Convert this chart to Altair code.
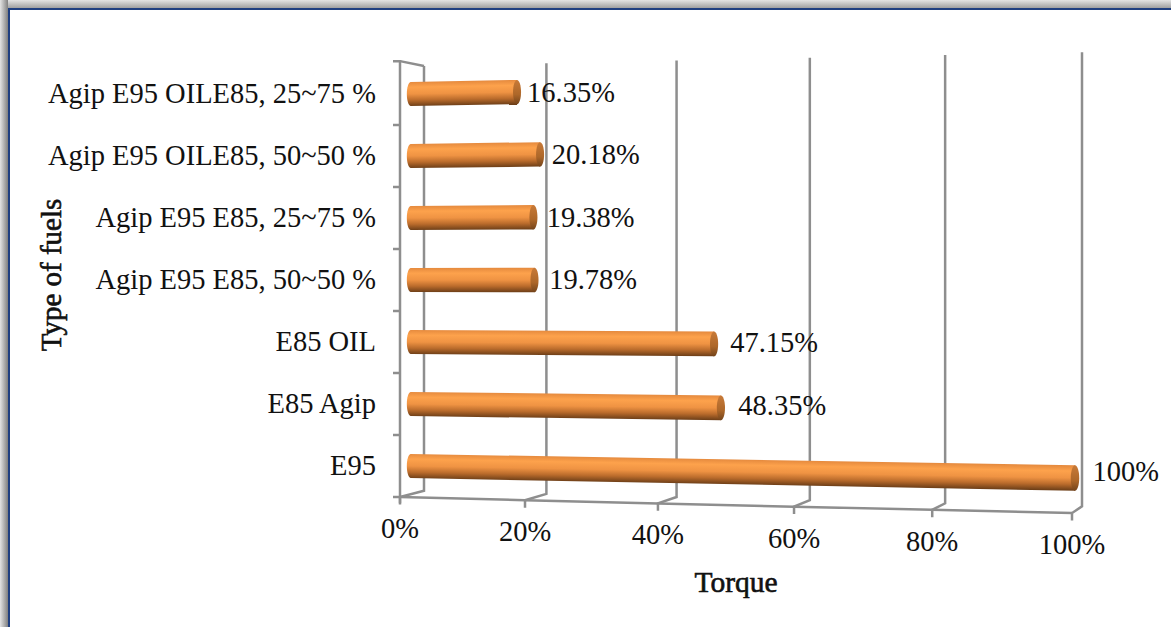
import altair as alt
import pandas as pd

# Chart content
fuels = ["E95", "E85 Agip", "E85 OIL", "Agip E95 E85, 50~50 %", "Agip E95 E85, 25~75 %",
         "Agip E95 OILE85, 50~50 %", "Agip E95 OILE85, 25~75 %"]
torque = [100, 48.35, 47.15, 19.78, 19.38, 20.18, 16.35]
torque_text = ["100%", "48.35%", "47.15%", "19.78%", "19.38%", "20.18%", "16.35%"]
x_ticks = [0, 20, 40, 60, 80, 100]
x_tick_text = ["0%", "20%", "40%", "60%", "80%", "100%"]

# Perspective model of the 3-D box: the value axis is a power scale, rows fan out with value
EXP = 1.045
FRONT_SPAN, BACK_SHIFT, BACK_SPAN = 672, 24, 658
FAN = 0.0645
MID_ROW = 3
ROW_PX = 62
BAR_DEPTH = 0.45
BAR_HALF = 0.194

FONT = "Liberation Serif"
FONT_SIZE = 28.5
INK = "#111111"
WALL = "#8e8e8e"

x_scale = alt.Scale(domain=[0, 100], range=[400, 1072], type="pow", exponent=EXP, nice=False, zero=False)
y_scale = alt.Scale(domain=[0, 6], range=[466, 94], nice=False, zero=False)


def depth_x(v, depth=0.0, shift=0.0):
    """Value on the front axis that lands where value v sits at the given box depth."""
    f = (max(v, 0) / 100) ** EXP
    px = (1 - depth) * FRONT_SPAN * f + depth * (BACK_SHIFT + BACK_SPAN * f) + shift
    sign = 1 if px >= 0 else -1
    return sign * 100 * (abs(px) / FRONT_SPAN) ** (1 / EXP)


def fan_y(row, v, fan=FAN):
    return MID_ROW + (row - MID_ROW) * (1 + fan * v / 100)


def end_depth(row):
    # Far ends of the tubes sit a little deeper in the upper rows
    return 0.30 + 0.07 * row


X = alt.X("x:Q", scale=x_scale, axis=None)
Y = alt.Y("y:Q", scale=y_scale, axis=None)

# Box outline: front floor edge, left wall, back wall verticals and their floor links
FLOOR_ROW, BACK_FLOOR, BACK_TOP, SIDE_TOP = -0.5, -0.40, 6.452, 6.53
FLOOR_FAN = 0.074
paths = []


def add_path(name, points):
    for i, (px, py) in enumerate(points):
        paths.append({"path": name, "i": i, "x": px, "y": py})


add_path("floor", [(depth_x(v), fan_y(FLOOR_ROW, v, FLOOR_FAN)) for v in x_ticks])
add_path("side", [(depth_x(0, 0, -7), SIDE_TOP), (depth_x(0), SIDE_TOP), (depth_x(0), FLOOR_ROW - 0.1)])
add_path("side_top", [(depth_x(0), SIDE_TOP), (depth_x(0, 1), BACK_TOP)])
for v in x_ticks:
    add_path(f"wall{v}", [
        (depth_x(v), fan_y(FLOOR_ROW, v, FLOOR_FAN) - 0.12),
        (depth_x(v), fan_y(FLOOR_ROW, v, FLOOR_FAN)),
        (depth_x(v, 1), fan_y(BACK_FLOOR, v, FLOOR_FAN)),
        (depth_x(v, 1), fan_y(BACK_TOP, v)),
    ])
for r in range(0, 7):
    add_path(f"tick{r}", [(depth_x(0, 0, -7), r - 0.5), (depth_x(0), r - 0.5)])

outline = alt.Chart(pd.DataFrame(paths)).mark_line(color=WALL, strokeWidth=2.5, interpolate="linear").encode(
    x=X, y=Y, detail="path:N", order="i:Q")

STOPS = [
    alt.GradientStop(offset=0, color="#e58a3e"),
    alt.GradientStop(offset=0.22, color="#fda24c"),
    alt.GradientStop(offset=0.5, color="#ef9343"),
    alt.GradientStop(offset=0.75, color="#bb6c2c"),
    alt.GradientStop(offset=1, color="#6e3f18"),
]
CAP_HALF_W = "0.33"
CAP_PATH = f"M0,-1 A{CAP_HALF_W},1 0 1 1 0,1 A{CAP_HALF_W},1 0 1 1 0,-1 Z"


def bar_gradient(row, value):
    """Gradient vector, in the unit box of a bar, that stays perpendicular to its slant."""
    y0 = fan_y(row, 0) * ROW_PX
    y1 = fan_y(row, value) * ROW_PX
    half0 = BAR_HALF * ROW_PX
    half1 = half0 * (1 + FAN * value / 100)
    top = max(y0 + half0, y1 + half1)
    bottom = min(y0 - half0, y1 - half1)
    height = top - bottom
    slope = (y0 - y1) / height
    thick = (half0 + half1) / height
    step = thick / (1 + slope ** 2)
    y_start = (top - (y0 + y1) / 2 - (half0 + half1) / 2) / height
    return alt.LinearGradient(gradient="linear", stops=STOPS,
                              x1=0.5, y1=y_start,
                              x2=0.5 - slope * step, y2=y_start + step)


bars = []
for row, value in enumerate(torque):
    near = depth_x(0, BAR_DEPTH)
    far = depth_x(value, end_depth(row))
    body = pd.DataFrame({
        "x": [near, far],
        "y": [fan_y(row, v) - BAR_HALF * (1 + FAN * v / 100) for v in (0, value)],
        "y2": [fan_y(row, v) + BAR_HALF * (1 + FAN * v / 100) for v in (0, value)],
    })
    grad = bar_gradient(row, value)
    start = alt.Chart(pd.DataFrame({"x": [near], "y": [fan_y(row, 0)]})).mark_point(
        shape=CAP_PATH, filled=True, opacity=1, strokeWidth=0, size=(2 * BAR_HALF * ROW_PX) ** 2,
        fill=alt.LinearGradient(gradient="linear", stops=STOPS, x1=0, y1=0, x2=0, y2=1),
    ).encode(x=X, y=Y)
    tube = alt.Chart(body).mark_area(fill=grad, interpolate="linear", opacity=1).encode(
        x=X, y=alt.Y("y:Q", scale=y_scale, axis=None), y2="y2:Q")
    half_end = BAR_HALF * ROW_PX * (1 + FAN * value / 100)
    end = alt.Chart(pd.DataFrame({"x": [far], "y": [fan_y(row, value)]})).mark_point(
        shape=CAP_PATH, filled=True, opacity=1, strokeWidth=0, size=(2 * half_end) ** 2,
        fill=alt.LinearGradient(gradient="linear", x1=0, y1=0, x2=0, y2=1, stops=[
            alt.GradientStop(offset=0, color="#c87a38"),
            alt.GradientStop(offset=0.6, color="#ad6729"),
            alt.GradientStop(offset=1, color="#74441b"),
        ]),
    ).encode(x=X, y=Y)
    bars += [start, tube, end]

# Text
row_labels = alt.Chart(pd.DataFrame({"t": fuels, "y": list(range(7))})).mark_text(
    align="right", baseline="middle", font=FONT, fontSize=FONT_SIZE, color=INK,
).encode(x=alt.value(376), y=Y, text="t:N")

value_labels = alt.Chart(pd.DataFrame({
    "t": torque_text,
    "x": [depth_x(v, BAR_DEPTH) for v in torque],
    "y": [fan_y(r, v, FAN / 2) for r, v in enumerate(torque)],
})).mark_text(align="left", baseline="middle", dx=16, font=FONT, fontSize=FONT_SIZE, color=INK).encode(
    x=X, y=Y, text="t:N")

tick_labels = alt.Chart(pd.DataFrame({
    "t": x_tick_text,
    "x": [depth_x(v) for v in x_ticks],
    "y": [fan_y(FLOOR_ROW, v, FLOOR_FAN) for v in x_ticks],
})).mark_text(align="center", baseline="middle", dy=32, font=FONT, fontSize=FONT_SIZE, color=INK).encode(
    x=X, y=Y, text="t:N")

x_title = alt.Chart(pd.DataFrame({"t": ["Torque"]})).mark_text(
    font=FONT, fontSize=29.5, color=INK, stroke=INK, strokeWidth=0.6, align="center", baseline="middle",
).encode(x=alt.value(736), y=alt.value(583), text="t:N")

y_title = alt.Chart(pd.DataFrame({"t": ["Type of fuels"]})).mark_text(
    font=FONT, fontSize=29, color=INK, stroke=INK, strokeWidth=0.6, angle=270, align="center", baseline="middle",
).encode(x=alt.value(52), y=alt.value(275), text="t:N")


# Page frame
def frame_rect(x0, x1, y0, y1, fill):
    return alt.Chart(pd.DataFrame({"a": [0]})).mark_rect(fill=fill, opacity=1).encode(
        x=alt.value(x0), x2=alt.value(x1), y=alt.value(y0), y2=alt.value(y1))


shade_top = alt.LinearGradient(gradient="linear", x1=0, y1=0, x2=0, y2=1, stops=[
    alt.GradientStop(offset=0, color="#e4e4e4"), alt.GradientStop(offset=1, color="#a0a0a0")])
shade_left = alt.LinearGradient(gradient="linear", x1=0, y1=0, x2=1, y2=0, stops=[
    alt.GradientStop(offset=0, color="#e4e4e4"), alt.GradientStop(offset=1, color="#808080")])
frame = [
    frame_rect(0, 1171, 0, 8, shade_top),
    frame_rect(0, 8, 0, 627, shade_left),
    frame_rect(8, 1171, 8, 10, "#1f3f80"),
    frame_rect(8, 10, 8, 627, "#1f3f80"),
]

chart = alt.layer(*frame, outline, *bars, row_labels, value_labels, tick_labels, x_title, y_title).properties(
    width=1171, height=627, padding=0, background="white",
    autosize=alt.AutoSizeParams(type="none"),
).configure_view(stroke=None)

chart.save("out.html", embed_options={"renderer": "svg", "actions": False})
